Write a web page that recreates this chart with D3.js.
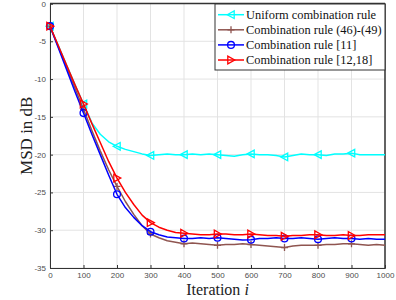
<!DOCTYPE html>
<html>
<head>
<meta charset="utf-8">
<script src="https://cdn.jsdelivr.net/npm/d3@7"></script>
<style>
  body { margin: 0; background: #fff; }
  svg { display: block; }
  .tick text { font-family: "Liberation Sans", Arial, sans-serif; font-size: 8px; fill: #4d4d4d; }
  .lbl { font-family: "Liberation Serif", "Times New Roman", serif; fill: #222; }
  .leg text { font-family: "Liberation Serif", "Times New Roman", serif; font-size: 12.4px; fill: #111; }
</style>
</head>
<body>
<svg width="396" height="300"></svg>
<script>
var iterations = [0, 25, 50, 75, 100, 125, 150, 175, 200, 225, 250, 275, 300, 325, 350, 375, 400,
    425, 450, 475, 500, 525, 550, 575, 600, 625, 650, 675, 700, 725, 750, 775, 800, 825, 850, 875, 900,
    925, 950, 975, 1000];

var uniformRule = [-3, -5.6, -8.2, -10.8, -13.3, -15.8, -17.3, -18.3, -18.9, -19.3, -19.6, -19.9, -20.1,
    -20.0, -19.9, -20.0, -20.0, -19.9, -20.0, -19.9, -20.0, -20.1, -20.2, -20.0, -19.9, -20.0, -20.0,
    -20.1, -20.3, -20.1, -19.9, -20.0, -20.0, -20.1, -19.9, -19.9, -19.8, -20.0, -20.0, -20.0, -20.0];

var rule4649 = [-3, -5.75, -8.5, -11.25, -14.0, -16.8, -19.5, -22.0, -24.2, -26.2, -27.9, -29.4, -30.5,
    -31.0, -31.4, -31.6, -31.8, -31.7, -31.8, -31.9, -32.0, -31.9, -31.9, -31.8, -31.9, -32.0, -32.1,
    -32.2, -32.3, -32.1, -32.0, -32.0, -32.0, -31.9, -31.9, -31.8, -31.8, -31.9, -32.0, -31.9, -32.0];

var rule11 = [-3, -5.9, -8.8, -11.7, -14.5, -17.3, -20.0, -22.7, -25.25, -27.0, -28.3, -29.4, -30.2,
    -30.6, -30.9, -31.0, -31.1, -31.1, -31.0, -31.1, -31.0, -31.1, -31.2, -31.3, -31.25, -31.1, -31.1,
    -31.0, -31.1, -31.1, -31.0, -31.1, -31.2, -31.1, -31.0, -31.1, -31.1, -31.2, -31.1, -31.2, -31.2];

var rule1218 = [-3, -5.6, -8.2, -10.8, -13.3, -15.9, -18.4, -20.9, -23.1, -25.0, -26.6, -28.0, -29.0,
    -29.6, -30.0, -30.3, -30.4, -30.5, -30.6, -30.6, -30.5, -30.5, -30.6, -30.6, -30.5, -30.6, -30.7,
    -30.7, -30.8, -30.7, -30.7, -30.6, -30.6, -30.7, -30.7, -30.6, -30.7, -30.7, -30.6, -30.6, -30.6];

var markerIters = [0, 100, 200, 300, 400, 500, 600, 700, 800, 900];
var xTicks = [0, 100, 200, 300, 400, 500, 600, 700, 800, 900, 1000];
var yTicks = [0, -5, -10, -15, -20, -25, -30, -35];

var seriesNames = ["Uniform combination rule", "Combination rule (46)-(49)",
    "Combination rule [11]", "Combination rule [12,18]"];
var seriesColors = ["#00ffff", "#8f5550", "#0000ff", "#ff0000"];
var seriesMarkers = ["triLeft", "plus", "circle", "triRight"];
var seriesValues = [uniformRule, rule4649, rule11, rule1218];

var margin = {left: 50, right: 11, top: 3.5, bottom: 32};
var width = 396, height = 300;

var svg = d3.select("svg");

var x = d3.scaleLinear().domain([0, 1000]).range([margin.left, width - margin.right]);
var y = d3.scaleLinear().domain([-35, 0]).range([height - margin.bottom, margin.top]);

// grid
var grid = svg.append("g");
grid.selectAll(".gx").data(xTicks).enter().append("line")
    .attr("x1", d => x(d)).attr("x2", d => x(d))
    .attr("y1", y(-35)).attr("y2", y(0))
    .attr("stroke", "#e3e3e3").attr("stroke-width", 1);
grid.selectAll(".gy").data(yTicks).enter().append("line")
    .attr("x1", x(0)).attr("x2", x(1000))
    .attr("y1", d => y(d)).attr("y2", d => y(d))
    .attr("stroke", "#e3e3e3").attr("stroke-width", 1);

// axes
var xAxis = d3.axisBottom(x).tickValues(xTicks).tickSize(-3).tickPadding(4).tickFormat(d3.format("d"));
var yAxis = d3.axisLeft(y).tickValues(yTicks).tickSize(-3).tickPadding(4).tickFormat(d => d);

svg.append("g").attr("transform", "translate(0," + y(-35) + ")").call(xAxis)
    .call(g => g.select(".domain").attr("stroke", "#333").attr("stroke-width", 1))
    .call(g => g.selectAll(".tick line").attr("stroke", "#333"));
svg.append("g").attr("transform", "translate(" + x(0) + ",0)").call(yAxis)
    .call(g => g.select(".domain").attr("stroke", "#333").attr("stroke-width", 1))
    .call(g => g.selectAll(".tick line").attr("stroke", "#333"));

// box top/right
svg.append("line").attr("x1", x(0)).attr("x2", x(1000)).attr("y1", y(0)).attr("y2", y(0))
    .attr("stroke", "#333").attr("stroke-width", 1.5);
svg.append("line").attr("x1", x(1000)).attr("x2", x(1000)).attr("y1", y(0)).attr("y2", y(-35))
    .attr("stroke", "#333").attr("stroke-width", 1.5);

var line = d3.line()
    .x((d, i) => x(iterations[i]))
    .y(d => y(d));

function drawMarker(g, type, color, cx, cy) {
    if (type === "circle") {
        g.append("circle").attr("cx", cx).attr("cy", cy).attr("r", 3.4)
            .attr("fill", "none").attr("stroke", color).attr("stroke-width", 1.3);
    } else if (type === "plus") {
        g.append("path").attr("d", "M" + (cx - 3.5) + "," + cy + "h7M" + cx + "," + (cy - 3.5) + "v7")
            .attr("stroke", color).attr("stroke-width", 1.3);
    } else if (type === "triLeft") {
        g.append("path").attr("d", "M" + (cx - 3.8) + "," + cy + "L" + (cx + 3.2) + "," + (cy - 3.8) +
            "L" + (cx + 3.2) + "," + (cy + 3.8) + "Z")
            .attr("fill", "none").attr("stroke", color).attr("stroke-width", 1.3);
    } else if (type === "triRight") {
        g.append("path").attr("d", "M" + (cx + 3.8) + "," + cy + "L" + (cx - 3.2) + "," + (cy - 3.8) +
            "L" + (cx - 3.2) + "," + (cy + 3.8) + "Z")
            .attr("fill", "none").attr("stroke", color).attr("stroke-width", 1.3);
    }
}

var plot = svg.append("g");
seriesValues.forEach(function (vals, s) {
    plot.append("path").datum(vals)
        .attr("d", line)
        .attr("fill", "none")
        .attr("stroke", seriesColors[s])
        .attr("stroke-width", 1.5)
        .attr("stroke-linejoin", "round");
    markerIters.forEach(function (it) {
        var i = iterations.indexOf(it);
        drawMarker(plot, seriesMarkers[s], seriesColors[s], x(it), y(vals[i]));
    });
});

// labels
svg.append("text").attr("class", "lbl")
    .attr("x", (x(0) + x(1000)) / 2).attr("y", 295)
    .attr("text-anchor", "middle").style("font-size", "16px")
    .html('Iteration <tspan font-style="italic">i</tspan>');
svg.append("text").attr("class", "lbl")
    .attr("transform", "translate(32," + ((y(0) + y(-35)) / 2) + ")rotate(-90)")
    .attr("text-anchor", "middle").style("font-size", "17px")
    .text("MSD in dB");

// legend
var leg = svg.append("g").attr("class", "leg");
leg.append("rect").attr("x", 215).attr("y", 4).attr("width", 170).attr("height", 66)
    .attr("fill", "#fff").attr("stroke", "#333").attr("stroke-width", 1);
seriesNames.forEach(function (name, s) {
    var cy = 14.7 + s * 15.1;
    leg.append("line").attr("x1", 218).attr("x2", 244).attr("y1", cy).attr("y2", cy)
        .attr("stroke", seriesColors[s]).attr("stroke-width", 1.5);
    drawMarker(leg, seriesMarkers[s], seriesColors[s], 231, cy);
    leg.append("text").attr("x", 246).attr("y", cy + 4).text(name);
});
</script>
</body>
</html>
